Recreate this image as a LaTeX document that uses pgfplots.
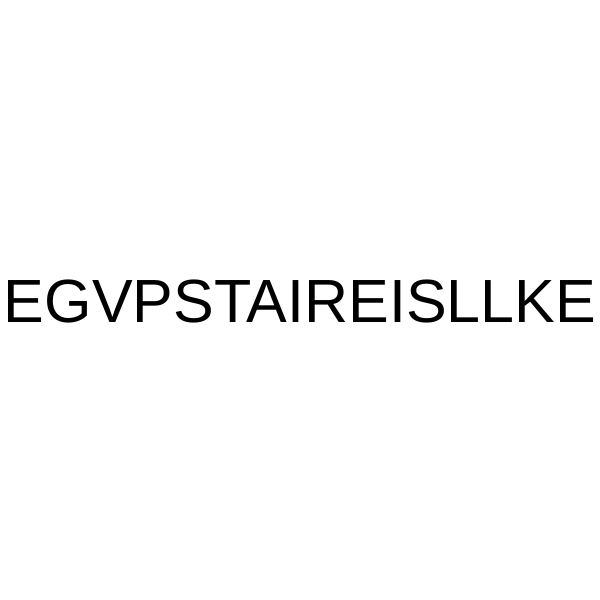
\documentclass[border=0pt]{standalone}
\usepackage{fontspec}
\setmainfont{Liberation Sans}
\usepackage{pgfplots}
\pgfplotsset{compat=1.18}
\begin{document}
\begin{tikzpicture}
\begin{axis}[
	width=300bp, height=300bp,
	scale only axis,
	xmin=0, xmax=1,
	ymin=0, ymax=1,
	hide axis,
	clip=false,
]
% keep the full square as the page
\path (rel axis cs:0,0) rectangle (rel axis cs:1,1);
\node[anchor=base, inner sep=0pt, font=\fontsize{30.5bp}{36bp}\selectfont]
	at (axis cs:0.5,0.4633) {EGVPSTAIREISLLKE};
\end{axis}
\end{tikzpicture}
\end{document}
